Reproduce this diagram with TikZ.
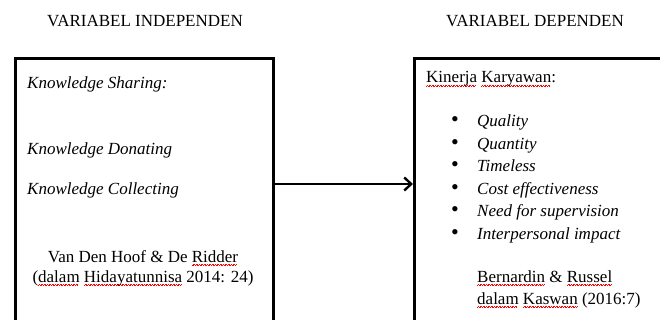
\documentclass[tikz,border=0pt]{standalone}
\usepackage{fontspec}
\setmainfont{Liberation Serif}
\usetikzlibrary{arrows.meta}
\newsavebox\typobox
\newcommand\typo[1]{\sbox\typobox{#1}\rlap{\color{red}\leaders\hbox{\rule[-3.4pt]{0.8pt}{0.6pt}\rule[-2.7pt]{0.8pt}{0.6pt}}\hskip\wd\typobox}\usebox\typobox}

\begin{document}
\begin{tikzpicture}[x=1pt, y=-1pt, font=\fontsize{17}{22}\selectfont,
    txt/.style={inner sep=0pt, anchor=base west},
    box/.style={draw, line width=2.8pt, inner sep=0pt, anchor=north west},
    >={Straight Barb[length=7pt, width=13pt, line width=2.4pt]}]
    \useasboundingbox (0,0) rectangle (660,320);
    % titles
    \node [inner sep=0pt, anchor=base] (titleA) at (145,27) {VARIABEL INDEPENDEN};
    \node [inner sep=0pt, anchor=base] (titleB) at (535,27) {VARIABEL DEPENDEN};
    % boxes, open below and on the right
    \node [box, minimum width=258pt, minimum height=300pt] (indep) at (14,57) {};
    \node [box, minimum width=300pt, minimum height=300pt] (dep) at (413,57) {};
    % independent variable
    \node [txt] (share) at (27,89) {\itshape Knowledge Sharing:};
    \node [txt] (donate) at (27,155) {\itshape Knowledge Donating};
    \node [txt] (collect) at (27,195) {\itshape Knowledge Collecting};
    \node [inner sep=0pt, anchor=base] (srcA1) at (143,262) {Van Den Hoof \& De \typo{Ridder}};
    \node [inner sep=0pt, anchor=base] (srcA2) at (143,282) {(\typo{dalam} \typo{Hidayatunnisa} 2014: 24)};
    % dependent variable
    \node [txt] (kinerja) at (426,83) {\typo{Kinerja} \typo{Karyawan}:};
    \foreach \y/\item [count=\i] in {127/Quality, 150/Quantity, 172/Timeless, 194/Cost effectiveness, 216/Need for supervision, 239/Interpersonal impact}{
      \node [txt] (dot\i) at (451,\y) {\scalebox{1.3}{•}};
      \node [txt] (item\i) at (477,\y) {\itshape \item};
    }
    \node [txt] (srcB1) at (477,282) {\typo{Bernardin} \& \typo{Russel}};
    \node [txt] (srcB2) at (477,304) {\typo{dalam} \typo{Kaswan} (2016:7)};
    % connector
    \coordinate (mid) at (0,184);
    \draw [->, line width=2.6pt] (indep.east |- mid) -- (dep.west |- mid);
\end{tikzpicture}
\end{document}
